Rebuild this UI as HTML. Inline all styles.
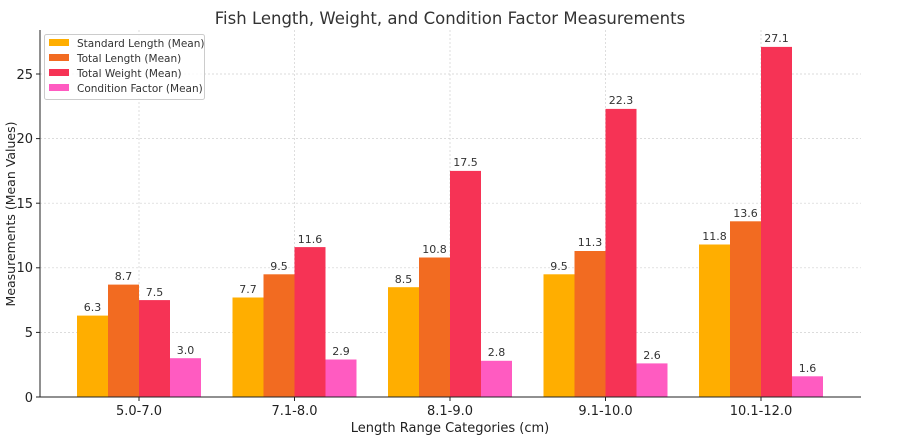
<!DOCTYPE html>
<html><head><meta charset="utf-8"><style>body{margin:0;background:#fff}svg{display:block;font-family:"DejaVu Sans","Liberation Sans",sans-serif}</style></head><body>
<svg width="897" height="438" viewBox="0 0 897 438">
<rect width="897" height="438" fill="#fff"/>
<text x="450" y="24" font-size="16.5" text-anchor="middle" fill="#333">Fish Length, Weight, and Condition Factor Measurements</text>
<g stroke="#d0d0d0" stroke-dasharray="2,2" stroke-width="0.7">
<line x1="40" x2="861" y1="332.4" y2="332.4"/><line x1="40" x2="861" y1="267.8" y2="267.8"/><line x1="40" x2="861" y1="203.2" y2="203.2"/><line x1="40" x2="861" y1="138.6" y2="138.6"/><line x1="40" x2="861" y1="74" y2="74"/>
<line x1="139" x2="139" y1="30" y2="397"/><line x1="294.5" x2="294.5" y1="30" y2="397"/><line x1="450" x2="450" y1="30" y2="397"/><line x1="605.5" x2="605.5" y1="30" y2="397"/><line x1="761" x2="761" y1="30" y2="397"/>
</g>
<g>
<rect x="77" y="315.6" width="31" height="81.4" fill="#FFAE00"/>
<rect x="108" y="284.6" width="31" height="112.4" fill="#F26B21"/>
<rect x="139" y="300.1" width="31" height="96.9" fill="#F63355"/>
<rect x="170" y="358.2" width="31" height="38.8" fill="#FF5BC1"/>
<rect x="232.5" y="297.5" width="31" height="99.5" fill="#FFAE00"/>
<rect x="263.5" y="274.3" width="31" height="122.7" fill="#F26B21"/>
<rect x="294.5" y="247.1" width="31" height="149.9" fill="#F63355"/>
<rect x="325.5" y="359.5" width="31" height="37.5" fill="#FF5BC1"/>
<rect x="388" y="287.2" width="31" height="109.8" fill="#FFAE00"/>
<rect x="419" y="257.5" width="31" height="139.5" fill="#F26B21"/>
<rect x="450" y="170.9" width="31" height="226.1" fill="#F63355"/>
<rect x="481" y="360.8" width="31" height="36.2" fill="#FF5BC1"/>
<rect x="543.5" y="274.3" width="31" height="122.7" fill="#FFAE00"/>
<rect x="574.5" y="251" width="31" height="146" fill="#F26B21"/>
<rect x="605.5" y="108.9" width="31" height="288.1" fill="#F63355"/>
<rect x="636.5" y="363.4" width="31" height="33.6" fill="#FF5BC1"/>
<rect x="699" y="244.5" width="31" height="152.5" fill="#FFAE00"/>
<rect x="730" y="221.3" width="31" height="175.7" fill="#F26B21"/>
<rect x="761" y="46.9" width="31" height="350.1" fill="#F63355"/>
<rect x="792" y="376.3" width="31" height="20.7" fill="#FF5BC1"/>
</g>
<g font-size="11" fill="#333" text-anchor="middle">
<text x="92.5" y="311">6.3</text><text x="123.5" y="280">8.7</text><text x="154.5" y="296">7.5</text><text x="185.5" y="354">3.0</text>
<text x="248" y="293">7.7</text><text x="279" y="270">9.5</text><text x="310" y="243">11.6</text><text x="341" y="355">2.9</text>
<text x="403.5" y="283">8.5</text><text x="434.5" y="253">10.8</text><text x="465.5" y="166">17.5</text><text x="496.5" y="356">2.8</text>
<text x="559" y="270">9.5</text><text x="590" y="246">11.3</text><text x="621" y="104">22.3</text><text x="652" y="359">2.6</text>
<text x="714.5" y="240">11.8</text><text x="745.5" y="217">13.6</text><text x="776.5" y="42">27.1</text><text x="807.5" y="372">1.6</text>
</g>
<line x1="40" x2="40" y1="30" y2="397" stroke="#222" stroke-width="1"/>
<line x1="40" x2="861" y1="397" y2="397" stroke="#222" stroke-width="1"/>
<g font-size="13" fill="#222" text-anchor="end">
<text x="33" y="402">0</text><text x="33" y="337">5</text><text x="33" y="272">10</text><text x="33" y="208">15</text><text x="33" y="143">20</text><text x="33" y="79">25</text>
</g>
<g stroke="#222"><line x1="36" x2="40" y1="397" y2="397"/><line x1="36" x2="40" y1="332.4" y2="332.4"/><line x1="36" x2="40" y1="267.8" y2="267.8"/><line x1="36" x2="40" y1="203.2" y2="203.2"/><line x1="36" x2="40" y1="138.6" y2="138.6"/><line x1="36" x2="40" y1="74" y2="74"/>
<line x1="139" x2="139" y1="397" y2="401"/><line x1="294.5" x2="294.5" y1="397" y2="401"/><line x1="450" x2="450" y1="397" y2="401"/><line x1="605.5" x2="605.5" y1="397" y2="401"/><line x1="761" x2="761" y1="397" y2="401"/></g>
<g font-size="13" fill="#222" text-anchor="middle">
<text x="139" y="415">5.0-7.0</text><text x="294.5" y="415">7.1-8.0</text><text x="450" y="415">8.1-9.0</text><text x="605.5" y="415">9.1-10.0</text><text x="761" y="415">10.1-12.0</text>
</g>
<text x="450" y="432" font-size="13" text-anchor="middle" fill="#222">Length Range Categories (cm)</text>
<text transform="translate(15,214) rotate(-90)" font-size="12.5" text-anchor="middle" fill="#222">Measurements (Mean Values)</text>
<rect x="44.5" y="34.5" width="160" height="65" rx="2" fill="#fff" fill-opacity="0.85" stroke="#ccc"/>
<g font-size="10.5" fill="#333">
<rect x="49" y="39" width="20" height="7" fill="#FFAE00"/><text x="77" y="47">Standard Length (Mean)</text>
<rect x="49" y="54" width="20" height="7" fill="#F26B21"/><text x="77" y="62">Total Length (Mean)</text>
<rect x="49" y="69" width="20" height="7" fill="#F63355"/><text x="77" y="77">Total Weight (Mean)</text>
<rect x="49" y="84" width="20" height="7" fill="#FF5BC1"/><text x="77" y="92">Condition Factor (Mean)</text>
</g>
</svg>
</body></html>
